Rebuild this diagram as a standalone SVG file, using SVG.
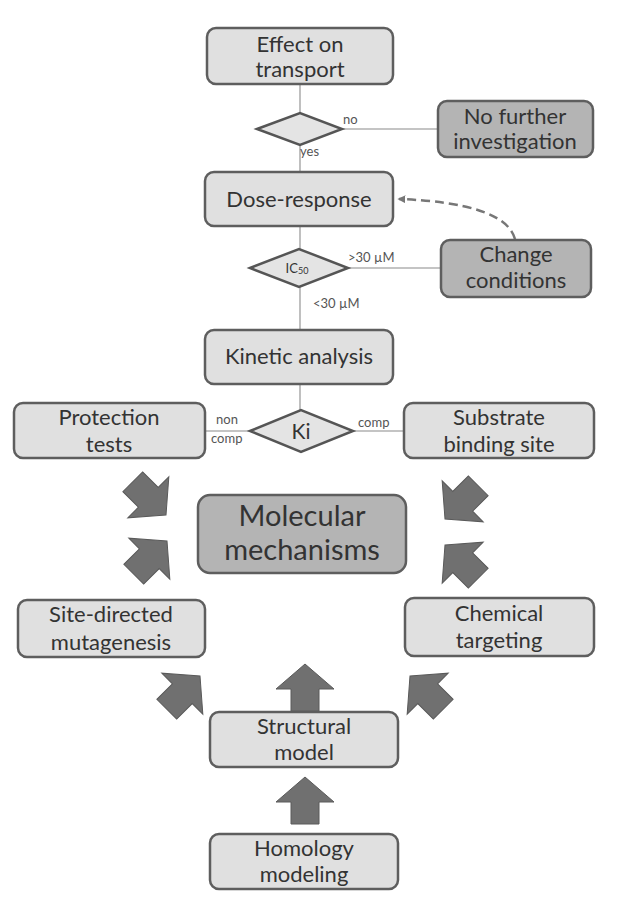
<svg xmlns="http://www.w3.org/2000/svg" width="637" height="910" viewBox="0 0 637 910">
<style>
.box{fill:#e0e0e0;stroke:#5e5e5e;stroke-width:2.5}
.dark{fill:#b4b4b4;stroke:#5e5e5e;stroke-width:2.5}
.dia{fill:#e4e4e4;stroke:#555;stroke-width:2.5}
.t{font-family:"Lato","Liberation Sans",sans-serif;font-size:22px;fill:#333;text-anchor:middle}
.big{font-size:29px}
.s{font-family:"Lato","Liberation Sans",sans-serif;font-size:13px;fill:#555}
.ln{stroke:#b0b0b0;stroke-width:1.6;fill:none}
.ba{fill:#707070;stroke:#5a5a5a;stroke-width:1}
</style>
<defs>
<path id="bar" d="M0,0 L29,25 L14,25 L14,47 L-14,47 L-14,25 L-29,25 Z"/>
<marker id="ah" viewBox="0 0 10 10" refX="8" refY="5" markerWidth="8" markerHeight="8" orient="auto-start-reverse" markerUnits="userSpaceOnUse">
<path d="M0,0 L10,5 L0,10 Z" fill="#777"/>
</marker>
</defs>
<rect width="637" height="910" fill="#fff"/>
<g id="connectors">
<line class="ln" x1="300" y1="84" x2="300" y2="113"/>
<line class="ln" x1="300" y1="145" x2="300" y2="172"/>
<line class="ln" x1="342" y1="129" x2="438" y2="129"/>
<line class="ln" x1="300" y1="226" x2="300" y2="249"/>
<line class="ln" x1="348" y1="268" x2="441" y2="268"/>
<line class="ln" x1="300" y1="287" x2="300" y2="330"/>
<line class="ln" x1="300" y1="384" x2="300" y2="410"/>
<line class="ln" x1="205" y1="431" x2="250" y2="431"/>
<line class="ln" x1="353" y1="431" x2="404" y2="431"/>
<path d="M515,239 Q505,203 399,199" fill="none" stroke="#777" stroke-width="2.5" stroke-dasharray="9,5" marker-end="url(#ah)"/>
<text class="s" x="343" y="124">no</text>
<text class="s" x="300" y="156">yes</text>
<text class="s" x="348" y="262">&gt;30 µM</text>
<text class="s" x="313" y="308">&lt;30 µM</text>
<text class="s" x="216" y="424">non</text>
<text class="s" x="211" y="443">comp</text>
<text class="s" x="358" y="427">comp</text>
</g>
<g id="effect"><rect class="box" x="207" y="28" width="186" height="56" rx="9"/><text class="t" x="300" y="52">Effect on</text><text class="t" x="300" y="77">transport</text></g>
<g id="d1"><polygon class="dia" points="257,129 300,113 342,129 300,145"/></g>
<g id="nofurther"><rect class="dark" x="438" y="101" width="155" height="56" rx="9"/><text class="t" x="515" y="124">No further</text><text class="t" x="515" y="149">investigation</text></g>
<g id="dose"><rect class="box" x="205" y="172" width="188" height="54" rx="9"/><text class="t" x="299" y="207">Dose-response</text></g>
<g id="ic50"><polygon class="dia" points="250,268 299,249 348,268 299,287"/><text x="297" y="273" style="font-family:'Lato','Liberation Sans',sans-serif;font-size:13px;fill:#333" text-anchor="middle">IC<tspan font-size="9" dy="1">50</tspan></text></g>
<g id="change"><rect class="dark" x="441" y="240" width="150" height="57" rx="9"/><text class="t" x="516" y="262">Change</text><text class="t" x="516" y="288">conditions</text></g>
<g id="kinetic"><rect class="box" x="205" y="330" width="188" height="54" rx="9"/><text class="t" x="299" y="364">Kinetic analysis</text></g>
<g id="ki"><polygon class="dia" points="250,431 301,410 353,431 301,452"/><text class="t" x="301" y="439" style="font-size:21px">Ki</text></g>
<g id="protection"><rect class="box" x="14" y="403" width="191" height="55" rx="9"/><text class="t" x="109" y="425">Protection</text><text class="t" x="109" y="452">tests</text></g>
<g id="substrate"><rect class="box" x="404" y="403" width="190" height="55" rx="9"/><text class="t" x="499" y="425">Substrate</text><text class="t" x="499" y="452">binding site</text></g>
<g id="molecular"><rect class="dark" x="198" y="495" width="208" height="78" rx="12"/><text class="t big" x="302" y="526">Molecular</text><text class="t big" x="302" y="560">mechanisms</text></g>
<g id="sitedirected"><rect class="box" x="18" y="600" width="187" height="57" rx="9"/><text class="t" x="111" y="622">Site-directed</text><text class="t" x="111" y="650">mutagenesis</text></g>
<g id="chemical"><rect class="box" x="405" y="598" width="189" height="58" rx="9"/><text class="t" x="499" y="621">Chemical</text><text class="t" x="499" y="648">targeting</text></g>
<g id="structural"><rect class="box" x="210" y="712" width="188" height="55" rx="9"/><text class="t" x="304" y="734">Structural</text><text class="t" x="304" y="760">model</text></g>
<g id="homology"><rect class="box" x="210" y="834" width="188" height="55" rx="9"/><text class="t" x="304" y="856">Homology</text><text class="t" x="304" y="882">modeling</text></g>
<g id="blockarrows">
<use href="#bar" class="ba" transform="translate(166,515) rotate(135)"/>
<use href="#bar" class="ba" transform="translate(167,541) rotate(45)"/>
<use href="#bar" class="ba" transform="translate(445,519) rotate(225)"/>
<use href="#bar" class="ba" transform="translate(445,545) rotate(-45)"/>
<use href="#bar" class="ba" transform="translate(200,676) rotate(45)"/>
<use href="#bar" class="ba" transform="translate(305,664)"/>
<use href="#bar" class="ba" transform="translate(410,676) rotate(-45)"/>
<use href="#bar" class="ba" transform="translate(305,777)"/>
</g>
</svg>
